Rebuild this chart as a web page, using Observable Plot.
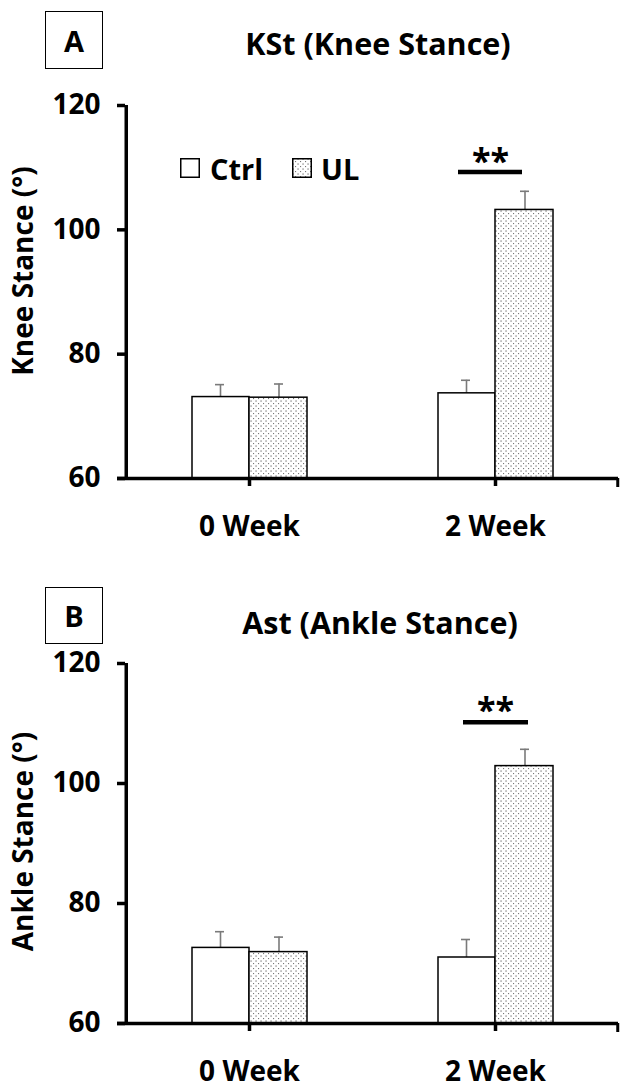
<!DOCTYPE html>
<html>
<head>
<meta charset="utf-8">
<script src="https://cdn.jsdelivr.net/npm/d3@7"></script>
<script src="https://cdn.jsdelivr.net/npm/@observablehq/plot@0.6"></script>
<style>
  body { margin: 0; background: white; }
  #wrap { position: relative; width: 623px; height: 1091px; background: white; font-family: "Open Sans", Lato, sans-serif; font-weight: bold; color: black; overflow: hidden; }
  .box { position: absolute; border: 1.5px solid black; box-sizing: border-box; display: flex; align-items: center; justify-content: center; font-size: 29px; }
  .title { position: absolute; transform: translate(-50%, -50%); white-space: nowrap; font-size: 30.5px; }
  .legtxt { position: absolute; font-size: 29px; transform: translateY(-50%); white-space: nowrap; }
</style>
</head>
<body>
<svg width="0" height="0" style="position:absolute">
  <defs>
    <pattern id="dots" width="5" height="5" patternUnits="userSpaceOnUse">
      <rect width="5" height="5" fill="white"/>
      <rect x="0.5" y="0.5" width="1.1" height="1.1" fill="#555"/>
      <rect x="3" y="3" width="1.1" height="1.1" fill="#777"/>
    </pattern>
  </defs>
</svg>
<div id="wrap"></div>
<script>
// ---- data ----
const weeks = ["0 Week", "2 Week"];
const groups = ["Ctrl", "UL"];
const yTicks = [60, 80, 100, 120];

const kneeCtrl = [73.1, 73.7];
const kneeCtrlErr = [2.0, 2.1];
const kneeUL = [73.0, 103.2];
const kneeULErr = [2.2, 3.0];
const kneeSigWeek = ["2 Week"];
const kneeSigLabel = ["**"];
const kneeSigY = [109.3];

const ankleCtrl = [72.6, 71.0];
const ankleCtrlErr = [2.7, 3.0];
const ankleUL = [71.9, 102.9];
const ankleULErr = [2.5, 2.8];
const ankleSigWeek = ["2 Week"];
const ankleSigLabel = ["**"];
const ankleSigY = [110.2];

const panelTitles = ["KSt (Knee Stance)", "Ast (Ankle Stance)"];
const panelLetters = ["A", "B"];
const yLabels = ["Knee Stance (°)", "Ankle Stance (°)"];

function rows(ctrl, ctrlErr, ul, ulErr) {
  return weeks.flatMap((w, i) => [
    {week: w, group: groups[0], value: ctrl[i], err: ctrlErr[i]},
    {week: w, group: groups[1], value: ul[i], err: ulErr[i]}
  ]);
}

const FONT = "'Open Sans', Lato, sans-serif";

function panel({data, sigWeek, sigLabel, sigY, yLabel, height, marginTop, marginBottom, sigInsets, sigDx, sigTextOffset, labelDy}) {
  const ctrl = data.filter(d => d.group === "Ctrl");
  const ul = data.filter(d => d.group === "UL");
  const sig = sigWeek.map((w, i) => ({week: w, y: sigY[i], label: sigLabel[i]}));
  const errStyle = {stroke: "#7a7a7a", strokeWidth: 1.6};
  const half = (623 - 125 - 5) / weeks.length / 2;
  const svg = Plot.plot({
    width: 623,
    height,
    marginTop,
    marginBottom,
    marginLeft: 125,
    marginRight: 5,
    style: {fontFamily: FONT, fontWeight: "bold", fontSize: "28px", color: "black", background: "white", overflow: "visible"},
    x: {type: "band", domain: weeks, padding: 0},
    y: {domain: [60, 120]},
    marks: [
      // error bars
      Plot.ruleX(ctrl, {x: "week", y1: "value", y2: d => d.value + d.err, dx: -29, ...errStyle}),
      Plot.ruleX(ul, {x: "week", y1: "value", y2: d => d.value + d.err, dx: 29.5, ...errStyle}),
      Plot.tickY(ctrl, {x: "week", y: d => d.value + d.err, insetLeft: 89, insetRight: 148, ...errStyle}),
      Plot.tickY(ul, {x: "week", y: d => d.value + d.err, insetLeft: 148, insetRight: 89, ...errStyle}),
      // bars
      Plot.barY(ctrl, {x: "week", y1: 60, y2: "value", fill: "white", stroke: "black", strokeWidth: 1.5, insetLeft: 66, insetRight: 123}),
      Plot.barY(ul, {x: "week", y1: 60, y2: "value", fill: "url(#dots)", stroke: "black", strokeWidth: 1.5, insetLeft: 123, insetRight: 65}),
      // significance
      Plot.tickY(sig, {x: "week", y: "y", stroke: "black", strokeWidth: 4.5, insetLeft: sigInsets[0], insetRight: sigInsets[1]}),
      Plot.text(sig, {x: "week", y: "y", text: "label", dx: sigDx, dy: sigTextOffset, fontSize: 34, fontWeight: "bold", fill: "black", fontFamily: FONT}),
      // axes
      Plot.axisY({ticks: yTicks, tickSize: 8, tickPadding: 17, label: null}),
      Plot.axisX({tickSize: 8, tickPadding: 30, label: null}),
      Plot.ruleX(weeks.slice(0, 1), {x: d => d, dx: -half, y1: 60, y2: 120, stroke: "black", strokeWidth: 3.5}),
      Plot.ruleX(weeks.slice(-1), {x: d => d, dx: half - 1, y1: 60, y2: 60, insetBottom: -9, stroke: "black", strokeWidth: 3}),
      Plot.ruleY([60], {stroke: "black", strokeWidth: 3.5, insetLeft: -8}),
      // y axis title
      Plot.text([yLabel], {frameAnchor: "left", text: d => d, rotate: -90, textAnchor: "middle", dx: -101, dy: labelDy, fontSize: 28, fontWeight: "bold", fill: "black", fontFamily: FONT})
    ]
  });
  const s = d3.select(svg);
  s.selectAll('g[aria-label="y-axis tick"], g[aria-label="x-axis tick"]').attr("stroke-width", 3.5).attr("stroke", "black");
  s.selectAll('g[aria-label="y-axis tick label"], g[aria-label="x-axis tick label"]').attr("font-size", 28).attr("font-weight", "bold").attr("font-family", FONT).attr("fill", "black");
  return svg;
}

const wrap = document.getElementById("wrap");

const p1 = panel({
  data: rows(kneeCtrl, kneeCtrlErr, kneeUL, kneeULErr),
  sigWeek: kneeSigWeek, sigLabel: kneeSigLabel, sigY: kneeSigY,
  yLabel: yLabels[0], height: 560, marginTop: 105, marginBottom: 82,
  sigInsets: [86, 96], sigDx: -5, sigTextOffset: -10, labelDy: -21
});
p1.style.position = "absolute"; p1.style.left = "0px"; p1.style.top = "0px";
wrap.appendChild(p1);

const p2 = panel({
  data: rows(ankleCtrl, ankleCtrlErr, ankleUL, ankleULErr),
  sigWeek: ankleSigWeek, sigLabel: ankleSigLabel, sigY: ankleSigY,
  yLabel: yLabels[1], height: 531, marginTop: 103, marginBottom: 68,
  sigInsets: [91, 90], sigDx: 0, sigTextOffset: -11, labelDy: -2
});
p2.style.position = "absolute"; p2.style.left = "0px"; p2.style.top = "560px";
wrap.appendChild(p2);

// panel letters & titles
function addBox(letter, top, h) {
  const b = document.createElement("div");
  b.className = "box"; b.textContent = letter;
  b.style.left = "45px"; b.style.top = top + "px"; b.style.width = "58px"; b.style.height = h + "px";
  wrap.appendChild(b);
}
function addTitle(t, cx, cy) {
  const d = document.createElement("div");
  d.className = "title"; d.textContent = t;
  d.style.left = cx + "px"; d.style.top = cy + "px";
  wrap.appendChild(d);
}
addBox(panelLetters[0], 11, 58);
addBox(panelLetters[1], 587, 57);
addTitle(panelTitles[0], 378, 43);
addTitle(panelTitles[1], 380, 622);

// legend
function addLegend(x, y, fill, label, tx) {
  const s = document.createElementNS("http://www.w3.org/2000/svg", "svg");
  s.setAttribute("width", 20); s.setAttribute("height", 20);
  s.style.position = "absolute"; s.style.left = x + "px"; s.style.top = y + "px";
  const r = document.createElementNS("http://www.w3.org/2000/svg", "rect");
  r.setAttribute("x", 0.75); r.setAttribute("y", 0.75); r.setAttribute("width", 18.5); r.setAttribute("height", 18.5);
  r.setAttribute("fill", fill); r.setAttribute("stroke", "black"); r.setAttribute("stroke-width", 1.5);
  s.appendChild(r);
  wrap.appendChild(s);
  const t = document.createElement("div");
  t.className = "legtxt"; t.textContent = label;
  t.style.left = tx + "px"; t.style.top = (y + 10) + "px";
  wrap.appendChild(t);
}
addLegend(180, 158, "white", groups[0], 210);
addLegend(292, 158, "url(#dots)", groups[1], 321);
</script>
</body>
</html>
